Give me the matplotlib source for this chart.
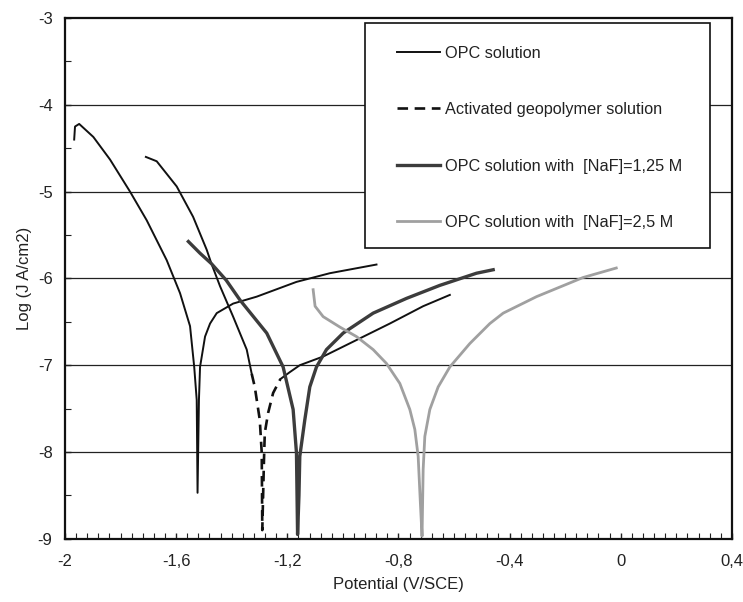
import numpy as np
import matplotlib.pyplot as plt
from matplotlib.patches import Rectangle
from matplotlib.ticker import MultipleLocator, FixedLocator, FixedFormatter

plt.rcParams['font.family'] = ['Liberation Sans', 'DejaVu Sans']

# ─── Data ────────────────────────────────────────────────────────────────────
opc_x = [-1.967, -1.964, -1.949, -1.898, -1.838, -1.766, -1.706, -1.634, -1.586,
         -1.550, -1.535, -1.526, -1.523,
         -1.518, -1.514, -1.496, -1.478, -1.454, -1.395, -1.310, -1.167, -1.047,
         -0.879]
opc_y = [-4.40, -4.25, -4.22, -4.37, -4.63, -5.00, -5.33, -5.79, -6.17,
         -6.55, -7.02, -7.40, -8.47,
         -7.40, -7.02, -6.67, -6.52, -6.40, -6.29, -6.21, -6.04, -5.94,
         -5.84]

# activated geopolymer: cathodic top (solid) / bottom (dashed) / anodic top (solid)
geo_cat_x = [-1.709, -1.670, -1.598, -1.539, -1.490, -1.473, -1.442, -1.395, -1.346,
             -1.328]
geo_cat_y = [-4.60, -4.65, -4.94, -5.29, -5.67, -5.83, -6.09, -6.44, -6.82,
             -7.10]
geo_bot_x = [-1.328, -1.317, -1.299, -1.292, -1.290, -1.284, -1.281, -1.269, -1.251,
             -1.225]
geo_bot_y = [-7.10, -7.25, -7.63, -8.01, -8.90, -8.10, -7.78, -7.55, -7.32, -7.16]
geo_an_x = [-1.225, -1.191, -1.155, -1.071, -0.951, -0.831, -0.711, -0.615]
geo_an_y = [-7.16, -7.08, -7.00, -6.90, -6.71, -6.52, -6.32, -6.19]

naf125_x = [-1.556, -1.514, -1.473, -1.420, -1.370, -1.274, -1.215, -1.179,
            -1.167, -1.163,
            -1.158, -1.155, -1.137, -1.119, -1.095, -1.059, -0.999, -0.891,
            -0.771, -0.651, -0.519, -0.459]
naf125_y = [-5.575, -5.71, -5.83, -6.02, -6.25, -6.63, -7.02, -7.51,
            -8.01, -8.95,
            -8.50, -8.05, -7.63, -7.25, -7.02, -6.82, -6.63, -6.40,
            -6.23, -6.08, -5.94, -5.90]

naf25_x = [-1.107, -1.100, -1.071, -1.011, -0.951, -0.891, -0.843, -0.795, -0.759,
           -0.741, -0.729, -0.721, -0.715,
           -0.711, -0.705, -0.687, -0.657, -0.615, -0.543, -0.471, -0.423,
           -0.303, -0.136, -0.016]
naf25_y = [-6.13, -6.32, -6.44, -6.56, -6.67, -6.82, -6.98, -7.21, -7.51,
           -7.74, -8.05, -8.59, -8.97,
           -8.20, -7.82, -7.51, -7.25, -7.02, -6.75, -6.52, -6.40,
           -6.21, -5.99, -5.88]

x_ticks = [-2.0, -1.6, -1.2, -0.8, -0.4, 0.0, 0.4]
x_tick_labels = ['-2', '-1,6', '-1,2', '-0,8', '-0,4', '0', '0,4']
y_ticks = [-9, -8, -7, -6, -5, -4, -3]
y_tick_labels = ['-9', '-8', '-7', '-6', '-5', '-4', '-3']

labels = ['OPC solution', 'Activated geopolymer solution',
          'OPC solution with  [NaF]=1,25 M', 'OPC solution with  [NaF]=2,5 M']

# ─── Figure ──────────────────────────────────────────────────────────────────
fig = plt.figure(figsize=(7.43, 6.02), dpi=100)
ax = fig.add_axes([0.0875, 0.105, 0.8975, 0.865])

for yv in y_ticks[1:-1]:
    ax.axhline(yv, color='#222222', linewidth=0.9, zorder=1)

ax.plot(opc_x, opc_y, color='#111111', linewidth=1.4, label=labels[0], zorder=3)
ax.plot(geo_cat_x, geo_cat_y, color='#111111', linewidth=1.4, zorder=3)
ax.plot(geo_bot_x, geo_bot_y, color='#111111', linewidth=1.9,
        linestyle=(0, (4, 2.5)), label=labels[1], zorder=3)
ax.plot(geo_an_x, geo_an_y, color='#111111', linewidth=1.4, zorder=3)
ax.plot(naf125_x, naf125_y, color='#3c3c3c', linewidth=2.4, label=labels[2], zorder=3)
ax.plot(naf25_x, naf25_y, color='#a0a0a0', linewidth=2.0, label=labels[3], zorder=3)

ax.set_xlim(-2.0, 0.4)
ax.set_ylim(-9, -3)
ax.xaxis.set_major_locator(FixedLocator(x_ticks))
ax.xaxis.set_major_formatter(FixedFormatter(x_tick_labels))
ax.yaxis.set_major_locator(FixedLocator(y_ticks))
ax.yaxis.set_major_formatter(FixedFormatter(y_tick_labels))
ax.xaxis.set_minor_locator(MultipleLocator(0.04))
ax.yaxis.set_minor_locator(MultipleLocator(0.5))
ax.tick_params(which='both', direction='in', colors='#222222', labelsize=12,
               top=False, right=False)
ax.tick_params(which='major', length=4, width=1)
ax.tick_params(axis='x', which='major', pad=11)
ax.tick_params(axis='y', which='major', pad=9)
ax.tick_params(which='minor', length=4, width=0.8)
for s in ax.spines.values():
    s.set_linewidth(1.6)
    s.set_color('#111111')

ax.set_xlabel('Potential (V/SCE)', fontsize=12, color='#222222', labelpad=6)
ax.set_ylabel('Log (J A/cm2)', fontsize=12, color='#222222', labelpad=4)

# legend box drawn as its own frame, entries placed inside it
ax.add_patch(Rectangle((0.4498, 0.5585), 0.5172, 0.4315, transform=ax.transAxes,
                       facecolor='white', edgecolor='#111111', linewidth=1.2,
                       zorder=4))
leg = ax.legend(loc='upper left', bbox_to_anchor=(0.4978, 0.947),
                fontsize=11.7, frameon=False, borderpad=0, borderaxespad=0,
                labelspacing=2.55, handlelength=2.65, handletextpad=0.3)
leg.set_zorder(5)
for t in leg.get_texts():
    t.set_color('#222222')

fig.savefig('out.png', dpi=100)
